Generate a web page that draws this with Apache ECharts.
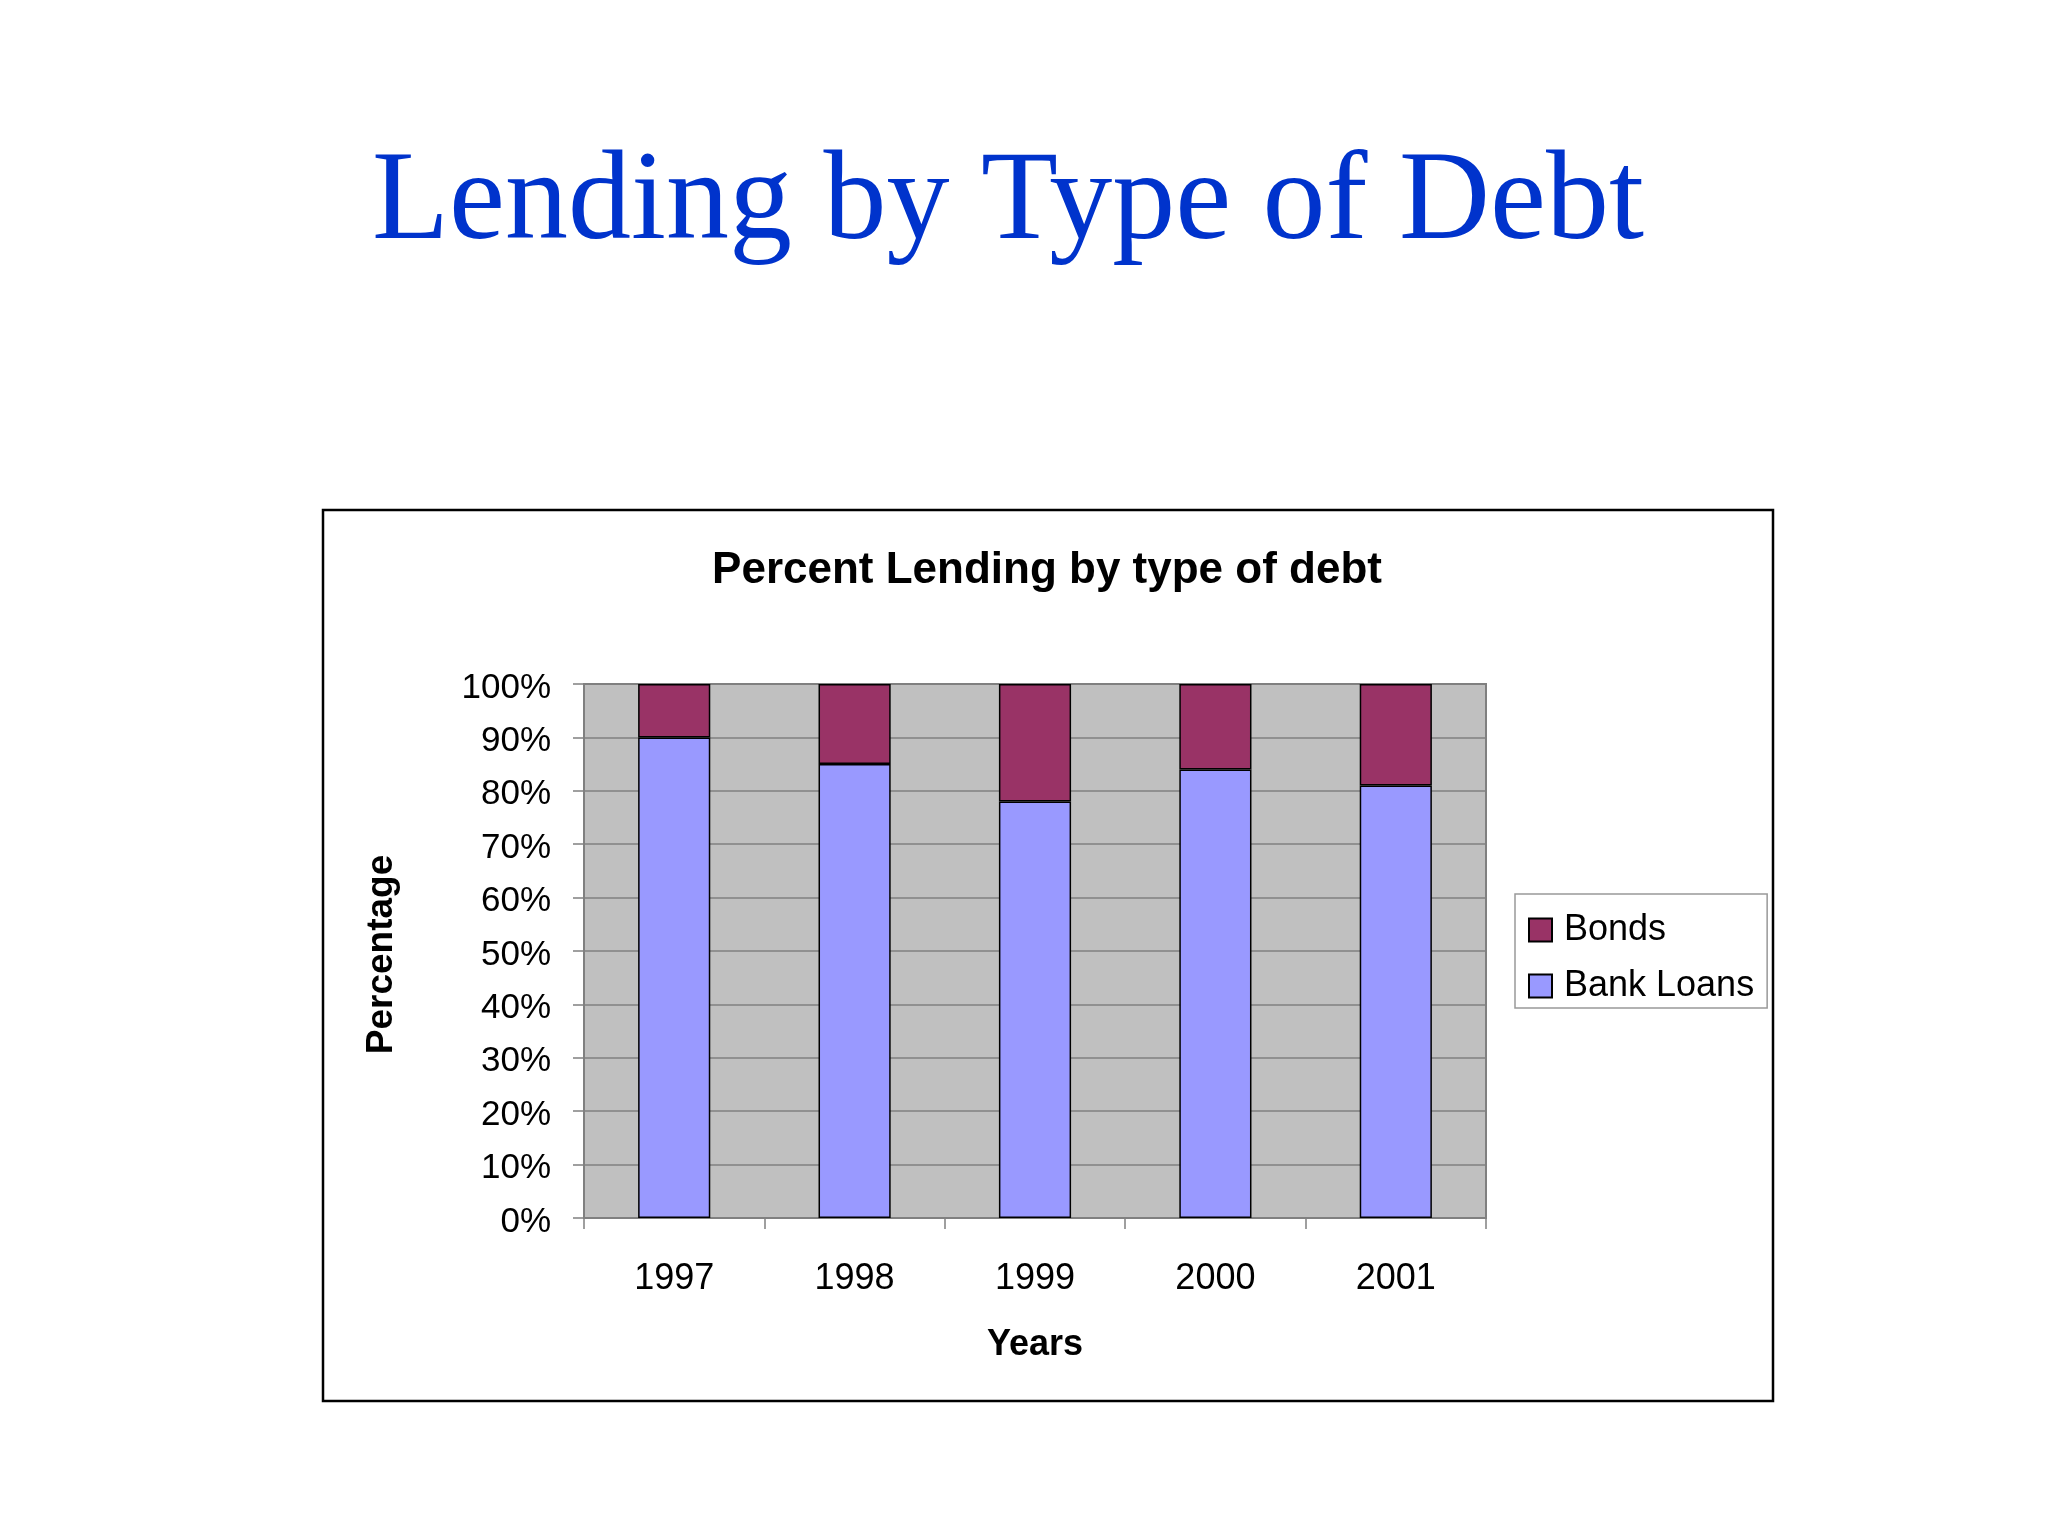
<!DOCTYPE html>
<html>
<head>
<meta charset="utf-8">
<script src="https://cdn.jsdelivr.net/npm/echarts@6/dist/echarts.min.js"></script>
<style>
html,body{margin:0;padding:0;background:#fff;}
#chart{width:2048px;height:1536px;}
</style>
</head>
<body>
<div id="chart"></div>
<script>
var mainTitle = 'Lending by Type of Debt';
var chartTitle = 'Percent Lending by type of debt';
var years = ['1997', '1998', '1999', '2000', '2001'];
var bankLoans = [90, 85, 78, 84, 81];
var bonds = [10, 15, 22, 16, 19];
var seriesNames = ['Bonds', 'Bank Loans'];
var yAxisTitle = 'Percentage';
var xAxisTitle = 'Years';

var chart = echarts.init(document.getElementById('chart'));
var sans = 'Liberation Sans, Arial, sans-serif';
chart.setOption({
  backgroundColor: '#ffffff',
  animation: false,
  title: [
    {
      text: mainTitle,
      left: 1008, top: 142, textAlign: 'center', padding: 0,
      textStyle: { fontFamily: 'Liberation Serif, Times New Roman, serif', fontSize: 126, fontWeight: 'normal', color: '#0033CC' }
    },
    {
      text: chartTitle,
      left: 1047, top: 549, textAlign: 'center', padding: 0,
      textStyle: { fontFamily: sans, fontSize: 44, fontWeight: 'bold', color: '#000' }
    }
  ],
  graphic: [
    { type: 'rect', shape: { x: 323, y: 510, width: 1450, height: 891 }, style: { fill: 'none', stroke: '#000', lineWidth: 2.5 }, z: 0, silent: true }
  ],
  grid: {
    left: 584, top: 684, width: 902, height: 534,
    show: true, backgroundColor: '#C0C0C0', borderColor: '#808080', borderWidth: 2
  },
  legend: {
    orient: 'vertical',
    left: 1515, top: 894,
    data: seriesNames,
    backgroundColor: '#fff',
    borderColor: '#999',
    borderWidth: 1.5,
    padding: [18, 13, 4, 13],
    itemWidth: 23, itemHeight: 23, itemGap: 20,
    icon: 'rect',
    itemStyle: { borderColor: '#000', borderWidth: 2 },
    textStyle: { fontFamily: sans, fontSize: 36, color: '#000', lineHeight: 36, padding: [0, 0, 0, 7] }
  },
  xAxis: {
    type: 'category',
    data: years,
    name: xAxisTitle,
    nameLocation: 'middle',
    nameGap: 109,
    nameTextStyle: { fontFamily: sans, fontSize: 36, fontWeight: 'bold', color: '#000' },
    axisLine: { show: true, lineStyle: { color: '#808080', width: 2 } },
    axisTick: { show: true, alignWithLabel: false, length: 11, lineStyle: { color: '#808080', width: 1.5 } },
    axisLabel: { fontFamily: sans, fontSize: 36, color: '#000', margin: 43 },
    splitLine: { show: false }
  },
  yAxis: {
    type: 'value',
    min: 0, max: 100, interval: 10,
    name: yAxisTitle,
    nameLocation: 'middle',
    nameRotate: 90,
    nameGap: 184,
    nameTextStyle: { fontFamily: sans, fontSize: 37, fontWeight: 'bold', color: '#000', padding: [0, 7, 0, 0] },
    axisLine: { show: true, lineStyle: { color: '#808080', width: 2 } },
    axisTick: { show: true, length: 11, lineStyle: { color: '#808080', width: 1.5 } },
    axisLabel: { fontFamily: sans, fontSize: 35, color: '#000', margin: 33, verticalAlign: 'top', lineHeight: 8, formatter: '{value}%' },
    splitLine: { show: true, lineStyle: { color: '#808080', width: 1.5 } }
  },
  series: [
    {
      name: seriesNames[1], type: 'bar', stack: 'total', data: bankLoans,
      barWidth: '40%',
      itemStyle: { color: '#9999FF', borderColor: '#000', borderWidth: 1.5 }
    },
    {
      name: seriesNames[0], type: 'bar', stack: 'total', data: bonds,
      barWidth: '40%',
      itemStyle: { color: '#993366', borderColor: '#000', borderWidth: 1.5 }
    }
  ]
});
</script>
</body>
</html>
